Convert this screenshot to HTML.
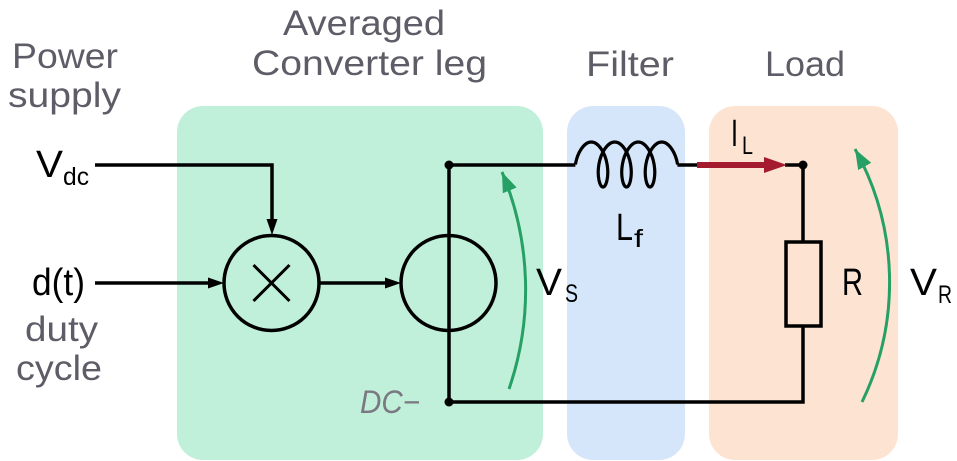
<!DOCTYPE html>
<html>
<head>
<meta charset="utf-8">
<style>
  html, body { margin: 0; padding: 0; background: #ffffff; }
  svg { display: block; }
  text { font-family: "Liberation Sans", "DejaVu Sans", sans-serif; }
  .title { fill: #5e5d67; font-size: 35px; }
  .lbl { fill: #000000; font-size: 38px; }
  .sub { fill: #000000; font-size: 25px; }
</style>
</head>
<body>
<svg width="957" height="461" viewBox="0 0 957 461" xmlns="http://www.w3.org/2000/svg">
  <defs>
    <marker id="garr" markerUnits="userSpaceOnUse" markerWidth="22" markerHeight="16" refX="20" refY="7.5" orient="auto">
      <path d="M0,0 L20,7.5 L0,15 z" fill="#26a064"/>
    </marker>
  </defs>

  <!-- background boxes -->
  <rect x="177" y="106" width="366" height="354" rx="26" ry="26" fill="#c0f0da"/>
  <rect x="567" y="106" width="118" height="354" rx="26" ry="26" fill="#d6e6fa"/>
  <rect x="709" y="106" width="189" height="354" rx="26" ry="26" fill="#fde4d2"/>

  <!-- titles -->
  <text class="title" x="12" y="68" textLength="106" lengthAdjust="spacingAndGlyphs">Power</text>
  <text class="title" x="8" y="107" textLength="113" lengthAdjust="spacingAndGlyphs">supply</text>
  <text class="title" x="283" y="35" textLength="162" lengthAdjust="spacingAndGlyphs">Averaged</text>
  <text class="title" x="252" y="75" textLength="235" lengthAdjust="spacingAndGlyphs">Converter leg</text>
  <text class="title" x="586" y="76" textLength="88" lengthAdjust="spacingAndGlyphs">Filter</text>
  <text class="title" x="765" y="76" textLength="80" lengthAdjust="spacingAndGlyphs">Load</text>

  <!-- input labels -->
  <text class="lbl" x="36" y="177" textLength="27" lengthAdjust="spacingAndGlyphs">V</text>
  <text class="sub" x="63" y="185" textLength="26" lengthAdjust="spacingAndGlyphs">dc</text>
  <text class="lbl" x="32" y="295" font-size="36" textLength="53" lengthAdjust="spacingAndGlyphs">d(t)</text>
  <text class="title" x="25" y="341" textLength="73" lengthAdjust="spacingAndGlyphs">duty</text>
  <text class="title" x="16" y="380" textLength="86" lengthAdjust="spacingAndGlyphs">cycle</text>

  <!-- Vdc line and arrow -->
  <path d="M95 165 H272 V220" fill="none" stroke="#000" stroke-width="3.5"/>
  <polygon points="266.5,219 277.5,219 272,235" fill="#000"/>

  <!-- d(t) line and arrow -->
  <path d="M95 283 H209" fill="none" stroke="#000" stroke-width="3.5"/>
  <polygon points="208,277.5 224,283 208,288.5" fill="#000"/>

  <!-- multiplier -->
  <circle cx="271.5" cy="283" r="47.5" fill="none" stroke="#000" stroke-width="3.5"/>
  <path d="M253.5 265 L289.5 301 M289.5 265 L253.5 301" stroke="#000" stroke-width="3"/>

  <!-- multiplier to source -->
  <path d="M319 283 H386" fill="none" stroke="#000" stroke-width="3.5"/>
  <polygon points="385,277.5 401,283 385,288.5" fill="#000"/>

  <!-- controlled source -->
  <circle cx="448.5" cy="283" r="47.5" fill="none" stroke="#000" stroke-width="3.5"/>

  <!-- main wires -->
  <path d="M449 165 V402 H803 V326" fill="none" stroke="#000" stroke-width="3.5"/>
  <path d="M803 165 V242" fill="none" stroke="#000" stroke-width="3.5"/>
  <rect x="786" y="242" width="35" height="84" fill="none" stroke="#000" stroke-width="3.5"/>
  <path d="M449 165 H575.4" fill="none" stroke="#000" stroke-width="3.5"/>

  <!-- inductor -->
  <path d="M575.38 164.5
    C577.33,152.72 584.06,142 591.25,142
    C598.44,142 605.17,152.72 607.13,164.5
    C609.08,176.28 606.28,187 603,187
    C599.72,187 596.92,176.28 598.87,164.5
    C600.83,152.72 607.56,142 614.75,142
    C621.94,142 628.67,152.72 630.62,164.5
    C632.58,176.28 629.78,187 626.5,187
    C623.22,187 620.42,176.28 622.37,164.5
    C624.33,152.72 631.05,142 638.25,142
    C645.44,142 652.17,152.72 654.12,164.5
    C656.08,176.28 653.28,187 650,187
    C646.72,187 643.92,176.28 645.87,164.5
    C647.83,152.72 654.55,142 661.75,142
    C668.94,142 675.67,152.72 677.62,164.5"
    fill="none" stroke="#000" stroke-width="3.2" stroke-linejoin="round"/>
  <path d="M677.4 165 H698" fill="none" stroke="#000" stroke-width="3.5"/>

  <!-- current arrow -->
  <path d="M785 165 H803" fill="none" stroke="#000" stroke-width="3.5"/>
  <path d="M697 165 H766" fill="none" stroke="#a51b2e" stroke-width="6"/>
  <polygon points="764,157 787,165 764,173" fill="#a51b2e"/>

  <!-- junction dots -->
  <circle cx="449" cy="165" r="4.5" fill="#000"/>
  <circle cx="803" cy="165" r="4.5" fill="#000"/>
  <circle cx="449" cy="402" r="4.5" fill="#000"/>

  <!-- voltage arrows -->
  <path d="M509 389 A305 305 0 0 0 502 172" fill="none" stroke="#26a064" stroke-width="3" marker-end="url(#garr)"/>
  <path d="M862 402 A274 274 0 0 0 855 149" fill="none" stroke="#26a064" stroke-width="3" marker-end="url(#garr)"/>

  <!-- component labels -->
  <text class="lbl" x="536" y="295" textLength="26" lengthAdjust="spacingAndGlyphs">V</text>
  <text class="sub" x="565" y="302" font-size="24" textLength="13" lengthAdjust="spacingAndGlyphs">S</text>

  <text class="lbl" x="616" y="240" textLength="17" lengthAdjust="spacingAndGlyphs">L</text>
  <text class="sub" x="634" y="247" textLength="9" lengthAdjust="spacingAndGlyphs">f</text>

  <text class="lbl" x="731" y="146" textLength="7" lengthAdjust="spacingAndGlyphs">I</text>
  <text class="sub" x="742" y="154" font-size="24" textLength="11" lengthAdjust="spacingAndGlyphs">L</text>

  <text class="lbl" x="842" y="295" textLength="21" lengthAdjust="spacingAndGlyphs">R</text>

  <text class="lbl" x="910" y="295" textLength="27" lengthAdjust="spacingAndGlyphs">V</text>
  <text class="sub" x="938" y="303" font-size="24" textLength="14" lengthAdjust="spacingAndGlyphs">R</text>

  <text x="360" y="413" font-size="32" font-style="italic" fill="#7a7880" textLength="60" lengthAdjust="spacingAndGlyphs">DC−</text>
</svg>
</body>
</html>
